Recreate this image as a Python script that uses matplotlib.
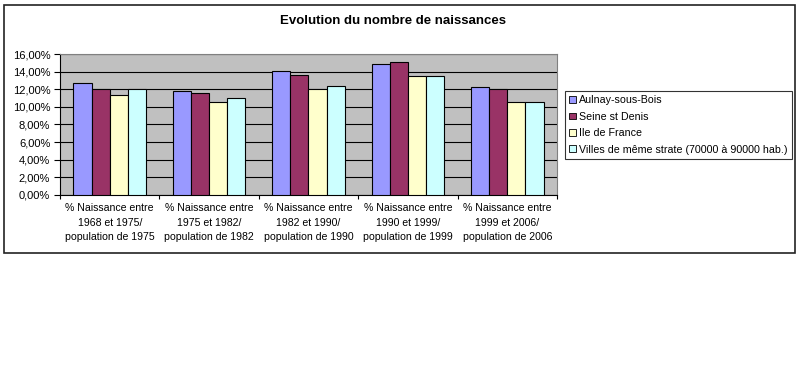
import matplotlib
matplotlib.use("Agg")
import matplotlib.pyplot as plt
from matplotlib.patches import Rectangle
from matplotlib.ticker import FuncFormatter, MultipleLocator
import numpy as np

plt.rcParams['font.family'] = ['Liberation Sans', 'DejaVu Sans']

categories = [
    "% Naissance entre\n1968 et 1975/\npopulation de 1975",
    "% Naissance entre\n1975 et 1982/\npopulation de 1982",
    "% Naissance entre\n1982 et 1990/\npopulation de 1990",
    "% Naissance entre\n1990 et 1999/\npopulation de 1999",
    "% Naissance entre\n1999 et 2006/\npopulation de 2006",
]
series_names = ["Aulnay-sous-Bois", "Seine st Denis", "Ile de France",
                "Villes de même strate (70000 à 90000 hab.)"]
aulnay = [12.7, 11.8, 14.1, 14.9, 12.2]
seine = [12.0, 11.6, 13.6, 15.1, 12.0]
idf = [11.4, 10.6, 12.0, 13.5, 10.5]
villes = [12.0, 11.0, 12.4, 13.5, 10.5]
colors = ["#9999FF", "#993366", "#FFFFCC", "#CCFFFF"]

W, H = 800, 385
fig = plt.figure(figsize=(W / 100, H / 100), dpi=100)

# outer chart frame
frame = Rectangle((4 / W, 1 - 253 / H), (795 - 4) / W, (253 - 5) / H,
                  transform=fig.transFigure, fill=False, edgecolor="#222222",
                  linewidth=1.2)
fig.patches.append(frame)

ax = fig.add_axes([60 / W, 1 - 195 / H, (557 - 60) / W, (195 - 54) / H])
ax.set_facecolor("#C0C0C0")

x = np.arange(len(categories))
bw = 0.1825
data = [aulnay, seine, idf, villes]
for i, (vals, c, name) in enumerate(zip(data, colors, series_names)):
    ax.bar(x + (i - 1.5) * bw, vals, width=bw, color=c, edgecolor="black",
           linewidth=0.8, label=name, zorder=3)

ax.set_xlim(-0.5, len(categories) - 0.5)
ax.set_ylim(0, 16)
ax.yaxis.set_major_locator(MultipleLocator(2))
ax.yaxis.set_major_formatter(FuncFormatter(lambda v, p: f"{v:.2f}%".replace(".", ",")))
ax.grid(axis="y", color="black", linewidth=0.8, zorder=0)
ax.set_axisbelow(True)

ax.set_xticks(np.arange(len(categories) + 1) - 0.5, minor=False)
ax.set_xticklabels([])
ax.set_xticks(x, minor=True)
ax.set_xticklabels(categories, minor=True, fontsize=7.6, linespacing=1.55)
ax.tick_params(axis="x", which="minor", length=0, pad=6)
ax.tick_params(axis="x", which="major", length=3, direction="out")
ax.tick_params(axis="y", labelsize=8, length=4, pad=3)

for s in ["top", "right"]:
    ax.spines[s].set_color("#808080")
for s in ["left", "bottom"]:
    ax.spines[s].set_color("black")

fig.text(393 / W, 1 - 21 / H, "Evolution du nombre de naissances",
         ha="center", va="center", fontsize=9.5, fontweight="bold")

handles = [Rectangle((0, 0), 1, 1, facecolor=c, edgecolor="black", linewidth=0.6)
           for c in colors]
leg = fig.legend(handles, series_names, loc="upper left",
                 bbox_to_anchor=(565 / W, 1 - 91 / H), fontsize=7.7,
                 frameon=True, fancybox=False, edgecolor="black",
                 handlelength=0.6, handleheight=0.6, handletextpad=0.35,
                 borderpad=0.4, labelspacing=0.6, borderaxespad=0)
leg.get_frame().set_linewidth(0.8)

fig.savefig("out.png", dpi=100)
